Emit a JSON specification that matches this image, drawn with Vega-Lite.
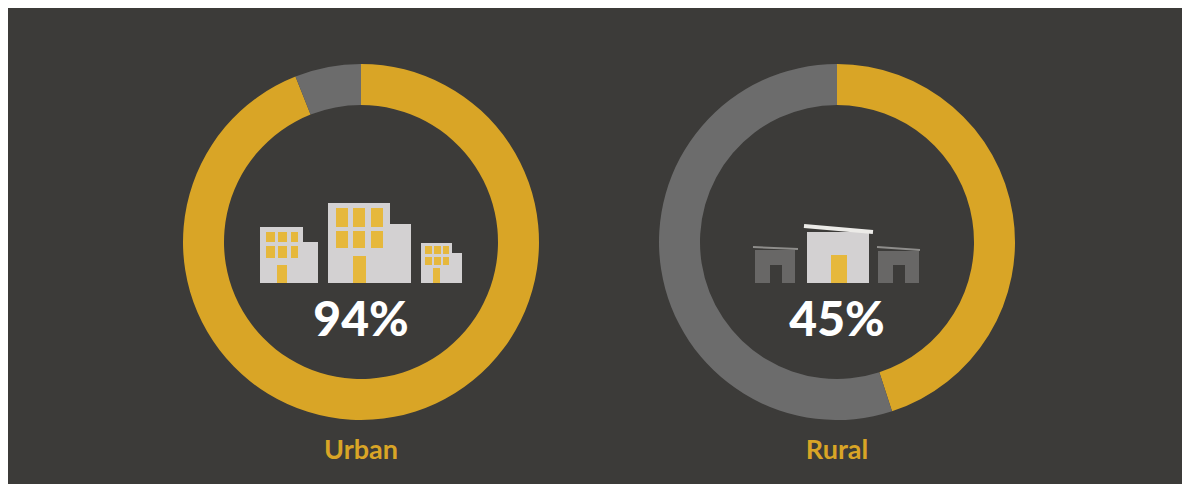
{
  "$schema": "https://vega.github.io/schema/vega-lite/v6.json",
  "width": 1174,
  "height": 476,
  "autosize": {"type": "none"},
  "padding": {"left": 8, "top": 8, "right": 0, "bottom": 0},
  "background": "#ffffff",
  "view": {"fill": "#3c3b39", "stroke": null},
  "datasets": {
    "rings": [
      {"area": "Urban", "part": "Yes", "from": 0, "to": 94, "cx": 361, "cy": 242},
      {"area": "Urban", "part": "No", "from": 94, "to": 100, "cx": 361, "cy": 242},
      {"area": "Rural", "part": "Yes", "from": 0, "to": 45, "cx": 837, "cy": 242},
      {"area": "Rural", "part": "No", "from": 45, "to": 100, "cx": 837, "cy": 242}
    ],
    "labels": [
      {"area": "Urban", "pct": "94%", "cx": 361, "pctY": 322, "nameY": 451},
      {"area": "Rural", "pct": "45%", "cx": 837, "pctY": 322, "nameY": 451}
    ],
    "icons": [
      {"shape": "wall", "x0": 260, "x1": 303, "y0": 227, "y1": 283},
      {"shape": "wall", "x0": 303, "x1": 318, "y0": 242, "y1": 283},
      {"shape": "window", "x0": 266, "x1": 275, "y0": 232, "y1": 242},
      {"shape": "window", "x0": 278, "x1": 287, "y0": 232, "y1": 242},
      {"shape": "window", "x0": 291, "x1": 298, "y0": 232, "y1": 242},
      {"shape": "window", "x0": 266, "x1": 275, "y0": 246, "y1": 258},
      {"shape": "window", "x0": 278, "x1": 287, "y0": 246, "y1": 258},
      {"shape": "window", "x0": 291, "x1": 298, "y0": 246, "y1": 258},
      {"shape": "window", "x0": 277, "x1": 287, "y0": 265, "y1": 283},

      {"shape": "wall", "x0": 328, "x1": 390, "y0": 203, "y1": 283},
      {"shape": "wall", "x0": 390, "x1": 411, "y0": 224, "y1": 283},
      {"shape": "window", "x0": 336, "x1": 348, "y0": 208, "y1": 227},
      {"shape": "window", "x0": 353, "x1": 365, "y0": 208, "y1": 227},
      {"shape": "window", "x0": 371, "x1": 383, "y0": 208, "y1": 227},
      {"shape": "window", "x0": 336, "x1": 348, "y0": 231, "y1": 248},
      {"shape": "window", "x0": 353, "x1": 365, "y0": 231, "y1": 248},
      {"shape": "window", "x0": 371, "x1": 383, "y0": 231, "y1": 248},
      {"shape": "window", "x0": 353, "x1": 366, "y0": 256, "y1": 283},

      {"shape": "wall", "x0": 421, "x1": 452, "y0": 243, "y1": 283},
      {"shape": "wall", "x0": 452, "x1": 462, "y0": 253, "y1": 283},
      {"shape": "window", "x0": 425, "x1": 432, "y0": 246, "y1": 254},
      {"shape": "window", "x0": 434, "x1": 441, "y0": 246, "y1": 254},
      {"shape": "window", "x0": 443, "x1": 449, "y0": 246, "y1": 254},
      {"shape": "window", "x0": 425, "x1": 432, "y0": 257, "y1": 265},
      {"shape": "window", "x0": 434, "x1": 441, "y0": 257, "y1": 265},
      {"shape": "window", "x0": 443, "x1": 449, "y0": 257, "y1": 265},
      {"shape": "window", "x0": 433, "x1": 440, "y0": 268, "y1": 283},

      {"shape": "hut", "x0": 755, "x1": 795, "y0": 250, "y1": 283},
      {"shape": "opening", "x0": 770, "x1": 782, "y0": 265, "y1": 283},
      {"shape": "wall", "x0": 807, "x1": 869, "y0": 232, "y1": 283},
      {"shape": "window", "x0": 831, "x1": 847, "y0": 255, "y1": 283},
      {"shape": "hut", "x0": 878, "x1": 919, "y0": 251, "y1": 283},
      {"shape": "opening", "x0": 893, "x1": 905, "y0": 265, "y1": 283}
    ],
    "roofs": [
      {"roof": "small", "x0": 753, "y0": 247, "x1": 798, "y1": 249},
      {"roof": "large", "x0": 804, "y0": 226, "x1": 873, "y1": 232},
      {"roof": "small", "x0": 877, "y0": 247, "x1": 920, "y1": 250}
    ]
  },
  "encoding": {
    "x": {"type": "quantitative", "scale": {"domain": [8, 1182], "nice": false, "zero": false}, "axis": null},
    "y": {"type": "quantitative", "scale": {"domain": [484, 8], "nice": false, "zero": false}, "axis": null}
  },
  "resolve": {"scale": {"color": "independent", "strokeWidth": "independent"}},
  "layer": [
    {
      "data": {"name": "rings"},
      "mark": {"type": "arc", "radius": 178, "radius2": 137},
      "encoding": {
        "x": {"field": "cx", "type": "quantitative"},
        "y": {"field": "cy", "type": "quantitative"},
        "theta": {"field": "from", "type": "quantitative", "scale": {"domain": [0, 100], "range": [0, 6.283185]}},
        "theta2": {"field": "to"},
        "color": {"field": "part", "type": "nominal", "scale": {"domain": ["Yes", "No"], "range": ["#d9a526", "#6c6c6c"]}, "legend": null}
      }
    },
    {
      "data": {"name": "icons"},
      "mark": {"type": "rect"},
      "encoding": {
        "x": {"field": "x0", "type": "quantitative"},
        "x2": {"field": "x1"},
        "y": {"field": "y0", "type": "quantitative"},
        "y2": {"field": "y1"},
        "color": {
          "field": "shape",
          "type": "nominal",
          "scale": {"domain": ["wall", "window", "hut", "opening"], "range": ["#d3d1d2", "#e6b83c", "#686766", "#3c3b39"]},
          "legend": null
        }
      }
    },
    {
      "data": {"name": "roofs"},
      "mark": {"type": "rule"},
      "encoding": {
        "x": {"field": "x0", "type": "quantitative"},
        "x2": {"field": "x1"},
        "y": {"field": "y0", "type": "quantitative"},
        "y2": {"field": "y1"},
        "color": {"field": "roof", "type": "nominal", "scale": {"domain": ["small", "large"], "range": ["#8e8d8b", "#ecebe8"]}, "legend": null},
        "strokeWidth": {"field": "roof", "type": "nominal", "scale": {"domain": ["small", "large"], "range": [2, 4]}, "legend": null}
      }
    },
    {
      "data": {"name": "labels"},
      "mark": {"type": "text", "font": "Lato", "fontWeight": 900, "fontSize": 48, "color": "#ffffff", "baseline": "middle", "align": "center"},
      "encoding": {
        "x": {"field": "cx", "type": "quantitative"},
        "y": {"field": "pctY", "type": "quantitative"},
        "text": {"field": "pct"}
      }
    },
    {
      "data": {"name": "labels"},
      "mark": {"type": "text", "font": "Lato", "fontWeight": "bold", "fontSize": 27, "color": "#d9a526", "baseline": "middle", "align": "center"},
      "encoding": {
        "x": {"field": "cx", "type": "quantitative"},
        "y": {"field": "nameY", "type": "quantitative"},
        "text": {"field": "area"}
      }
    }
  ]
}
